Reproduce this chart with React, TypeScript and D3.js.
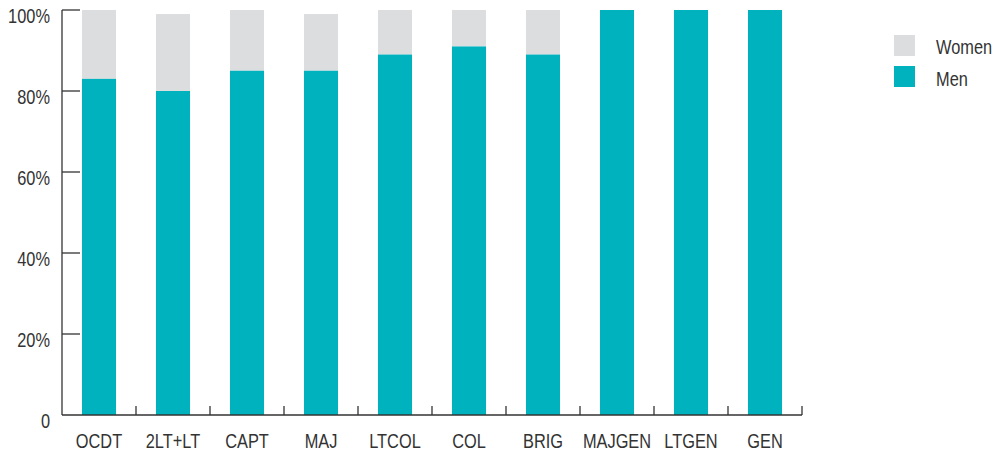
import React from "react";
import * as d3 from "d3";

const categories = ["OCDT", "2LT+LT", "CAPT", "MAJ", "LTCOL", "COL", "BRIG", "MAJGEN", "LTGEN", "GEN"];
const men = [83, 80, 85, 85, 89, 91, 89, 100, 100, 100];
const women = [17, 19, 15, 14, 11, 9, 11, 0, 0, 0];
const yTicks = [0, 20, 40, 60, 80, 100];

const TEAL = "#00B2BE";
const GRAY = "#DCDDDF";
const AXIS = "#333333";
const FONT = "'Liberation Sans', Arial, sans-serif";
const SX = 0.84;

function T({ x, y, anchor, children }: { x: number; y: number; anchor?: string; children: React.ReactNode }) {
  return (
    <text transform={`translate(${x},${y}) scale(${SX},1)`} textAnchor={anchor || "start"} fontSize={19.5} fill={AXIS}>
      {children}
    </text>
  );
}

export default function App() {
  const W = 1005, H = 454;
  const x = d3.scaleBand<string>().domain(categories).range([62, 802]).paddingInner(0.54).paddingOuter(0.27);
  const y = d3.scaleLinear().domain([0, 100]).range([415, 10]);
  const step = x.step();
  const bw = x.bandwidth();

  return (
    <svg width={W} height={H} style={{ position: "absolute", left: 0, top: 0 }} fontFamily={FONT}>
      {categories.map((c, i) => (
        <g key={c}>
          <rect x={x(c)} y={y(men[i] + women[i])} width={bw} height={y(men[i]) - y(men[i] + women[i])} fill={GRAY} />
          <rect x={x(c)} y={y(men[i])} width={bw} height={y(0) - y(men[i])} fill={TEAL} />
          <T x={(x(c) as number) + bw / 2} y={448} anchor="middle">{c}</T>
        </g>
      ))}
      <line x1={62} x2={62} y1={y(100)} y2={y(0)} stroke={AXIS} strokeWidth={1.3} />
      <line x1={62} x2={802} y1={y(0)} y2={y(0)} stroke={AXIS} strokeWidth={1.3} />
      {yTicks.map((t) => (
        <g key={t}>
          {t > 0 && <line x1={62} x2={80} y1={y(t)} y2={y(t)} stroke={AXIS} strokeWidth={1.3} />}
          <T x={50} y={y(t) + 13} anchor="end">{t === 0 ? "0" : `${t}%`}</T>
        </g>
      ))}
      {categories.map((c, i) => {
        const xb = 62 + step * (i + 1);
        return <line key={"t" + c} x1={xb} x2={xb} y1={y(0) - 9} y2={y(0)} stroke={AXIS} strokeWidth={1.3} />;
      })}
      <rect x={894} y={35} width={21} height={21} fill={GRAY} />
      <rect x={894} y={66} width={21} height={21} fill={TEAL} />
      <T x={936} y={54}>Women</T>
      <T x={936} y={86}>Men</T>
    </svg>
  );
}
